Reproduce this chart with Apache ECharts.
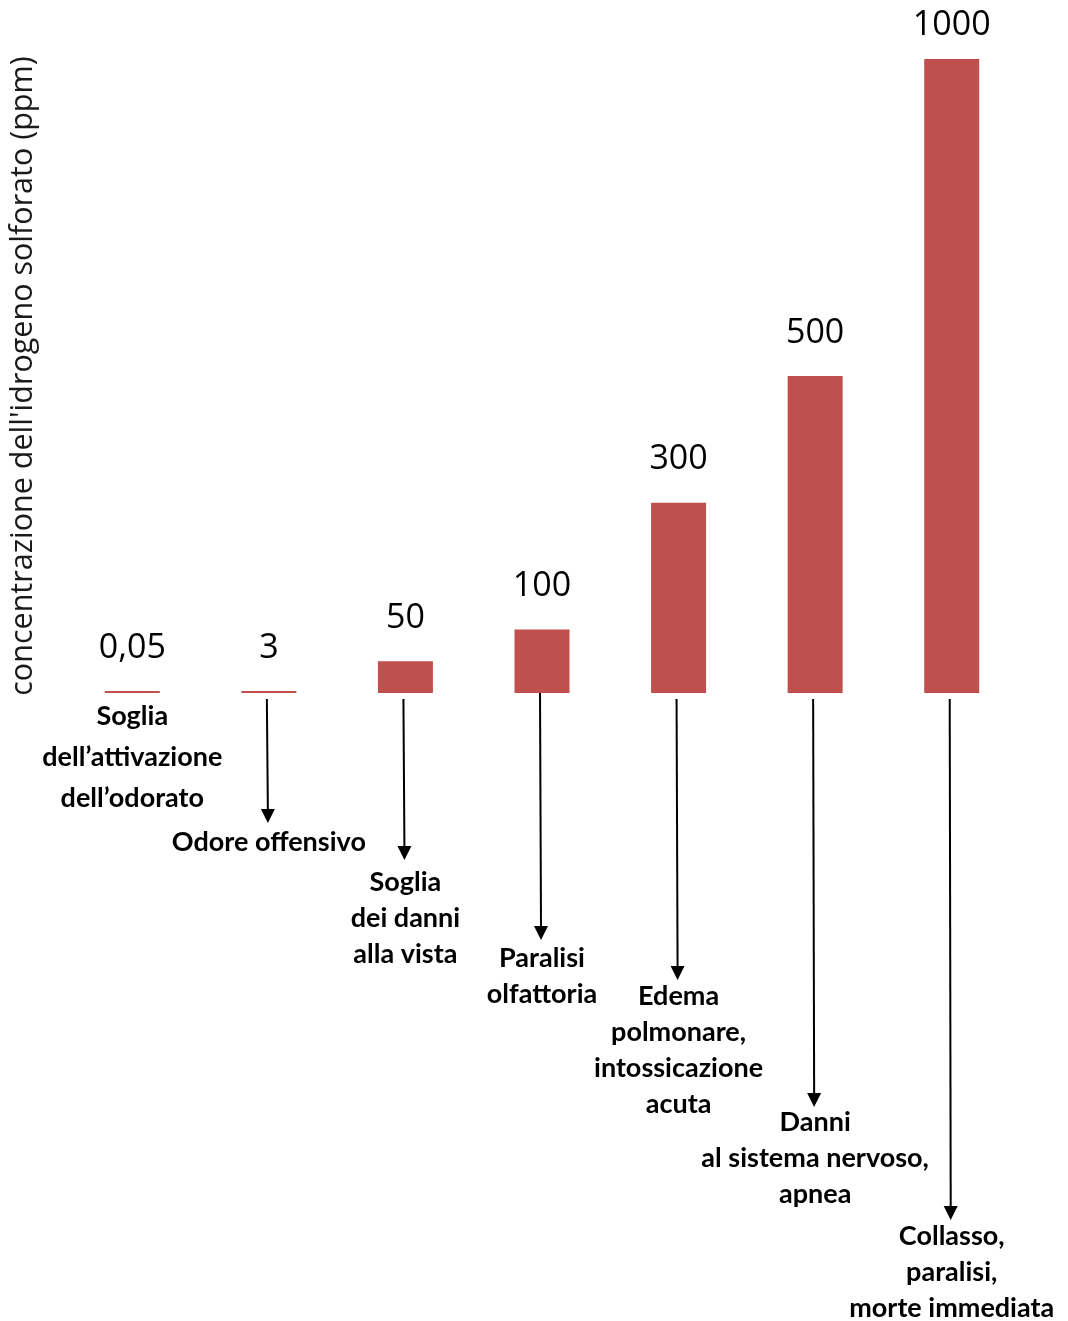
<!DOCTYPE html>
<html><head><meta charset="utf-8">
<script src="https://cdn.jsdelivr.net/npm/echarts@6/dist/echarts.min.js"></script>
<style>html,body{margin:0;padding:0;background:#fff}#c{width:1068px;height:1321px}</style>
</head><body><div id="c"></div>
<script>
const categories = ['0,05', '3', '50', '100', '300', '500', '1000'];
const values = [0.05, 3, 50, 100, 300, 500, 1000];
const valueLabels = ['0,05', '3', '50', '100', '300', '500', '1000'];
const effects = [
  'Soglia\ndell\u2019attivazione\ndell\u2019odorato',
  'Odore offensivo',
  'Soglia\ndei danni\nalla vista',
  'Paralisi\nolfattoria',
  'Edema\npolmonare,\nintossicazione\nacuta',
  'Danni\nal sistema nervoso,\napnea',
  'Collasso,\nparalisi,\nmorte immediata'
];
const yAxisName = "concentrazione dell'idrogeno solforato (ppm)";

// layout (pixel offsets below the baseline) for annotation arrows/text
const arrowEnd = [0, 130, 167, 247, 287, 414, 527];
const firstLineCenter = [23, 149, 189, 265, 303, 429, 543];

const chart = echarts.init(document.getElementById('c'));
const LBL = 'Open Sans';
const ANN = 'Lato';
chart.setOption({
  animation: false,
  grid: { left: 64, right: 48, top: 59, bottom: 628, containLabel: false, outerBoundsMode: 'none' },
  xAxis: {
    type: 'category', data: categories,
    axisLine: { show: false }, axisTick: { show: false }, axisLabel: { show: false }
  },
  yAxis: {
    type: 'value', min: 0, max: 1000,
    name: yAxisName, nameLocation: 'middle', nameGap: 25, nameRotate: 90,
    nameTextStyle: { fontFamily: LBL, fontSize: 30.5, color: '#1a1a1a' },
    axisLine: { show: false }, axisTick: { show: false }, axisLabel: { show: false },
    splitLine: { show: false }
  },
  series: [
    {
      type: 'bar', data: values.map((v, i) => ({
        value: v,
        label: { distance: i === 6 ? 17 : 26 }
      })),
      barWidth: 55, barMinHeight: 2,
      itemStyle: { color: '#C0504D' },
      label: {
        show: true, position: 'top', distance: 26,
        formatter: p => valueLabels[p.dataIndex],
        fontFamily: LBL, fontSize: 34, color: '#000'
      }
    },
    {
      type: 'custom', clip: false, silent: true,
      data: categories.map((c, i) => [i, 0]),
      renderItem: function (params, api) {
        const i = params.dataIndex;
        const p = api.coord([api.value(0), 0]);
        const cx = p[0], y0 = p[1];
        const children = [];
        if (arrowEnd[i] > 0) {
          const tip = y0 + arrowEnd[i];
          const xa = cx - 2, xb = cx - 1;
          children.push({
            type: 'line',
            shape: { x1: xa, y1: y0 + (i === 3 ? -3 : 6), x2: xb, y2: tip - 12 },
            style: { stroke: '#000', lineWidth: 2 }
          });
          children.push({
            type: 'polygon',
            shape: { points: [[xb - 7, tip - 14], [xb + 7, tip - 14], [xb, tip]] },
            style: { fill: '#000' }
          });
        }
        const lh = i === 0 ? 41 : 36;
        children.push({
          type: 'text',
          style: {
            x: cx, y: y0 + firstLineCenter[i] - lh / 2, text: effects[i],
            align: 'center', verticalAlign: 'top',
            fontFamily: ANN, fontWeight: 'bold', fontSize: 27,
            lineHeight: lh, fill: '#000'
          }
        });
        return { type: 'group', children: children };
      }
    }
  ]
});
</script></body></html>
